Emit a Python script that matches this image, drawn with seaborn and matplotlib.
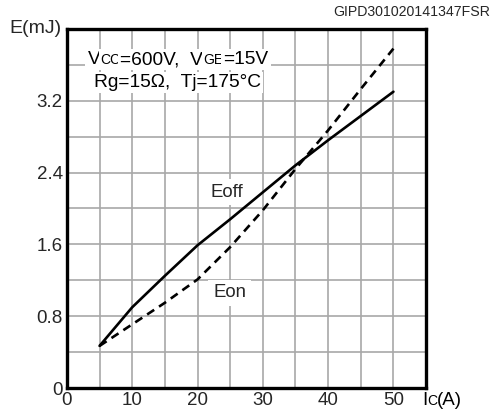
import matplotlib
matplotlib.use("Agg")
import matplotlib.pyplot as plt
import seaborn as sns
import pandas as pd
import numpy as np

# ---- data ----
ic = [5, 10, 15, 20, 25, 30, 35, 40, 45, 50]
eoff = [0.47, 0.90, 1.25, 1.59, 1.88, 2.18, 2.48, 2.76, 3.03, 3.30]
eon = [0.47, 0.71, 0.95, 1.21, 1.57, 1.98, 2.44, 2.87, 3.33, 3.78]
x_ticks = [0, 10, 20, 30, 40, 50]
y_ticks = [0, 0.8, 1.6, 2.4, 3.2]
y_labels = ["0", "0.8", "1.6", "2.4", "3.2"]

df = pd.DataFrame({
    "Ic": ic * 2,
    "E": eoff + eon,
    "curve": ["Eoff"] * len(ic) + ["Eon"] * len(ic),
})

sns.set_theme(style="white")
plt.rcParams["font.family"] = ["Liberation Sans", "DejaVu Sans"]

fig = plt.figure(figsize=(4.92, 4.12), dpi=100)
ax = fig.add_axes([0.136, 0.058, 0.730, 0.872])

sns.lineplot(data=df, x="Ic", y="E", hue="curve", style="curve",
             palette={"Eoff": "black", "Eon": "black"},
             dashes={"Eoff": "", "Eon": (3.2, 2.2)},
             linewidth=1.9, legend=False, ax=ax, zorder=4)

ax.set_xlim(0, 55)
ax.set_ylim(0, 4)
ax.set_xticks(x_ticks)
ax.set_xticklabels([str(t) for t in x_ticks])
ax.set_yticks(y_ticks)
ax.set_yticklabels(y_labels)
ax.set_xticks(np.arange(5, 55, 5), minor=True)
ax.set_yticks(np.arange(0.4, 4.0, 0.4), minor=True)
ax.grid(which="both", color="#a8a8a8", linewidth=1.2, zorder=0)
ax.set_axisbelow(True)
ax.tick_params(which="both", length=0)
ax.tick_params(axis="x", labelsize=13.5, pad=3)
ax.tick_params(axis="y", labelsize=13.5, pad=3)
ax.set_xlabel("")
ax.set_ylabel("")
for s in ax.spines.values():
    s.set_color("black")
    s.set_linewidth(2.4)
    s.set_zorder(5)

wb = dict(boxstyle="square,pad=0.12", fc="white", ec="none")

def chain(parts, x, y, coord, box=True):
    prev = None
    for txt, size in parts:
        kw = dict(fontsize=size, color="black", ha="left", va="baseline", zorder=6)
        if box:
            kw["bbox"] = wb
        if prev is None:
            prev = ax.annotate(txt, xy=(x, y), xycoords=coord, annotation_clip=False, **kw)
        else:
            prev = ax.annotate(txt, xy=(1, y), xycoords=(prev, coord), annotation_clip=False, **kw)
    return prev

chain([("V", 13.8), ("CC", 10), ("=600V,  V", 13.8), ("GE", 10), ("=15V", 13.8)],
      0.058, 0.902, "axes fraction")
chain([("Rg=15\u03a9,  Tj=175\u00b0C", 13.8)], 0.075, 0.838, "axes fraction")

ax.text(24.5, 2.18, "Eoff", fontsize=13.4, ha="center", va="center",
        bbox=dict(boxstyle="square,pad=0.25", fc="white", ec="none"), zorder=3)
ax.text(24.9, 1.06, "Eon", fontsize=13.4, ha="center", va="center",
        bbox=dict(boxstyle="square,pad=0.25", fc="white", ec="none"), zorder=3)

# axis labels
fig.text(0.020, 0.930, "E(mJ)", fontsize=14, ha="left", va="center")
chain([("I", 13.5), ("C", 10), ("(A)", 13.5)], 0.988, -0.047, "axes fraction", box=False)
fig.text(0.997, 0.970, "GIPD301020141347FSR", fontsize=10.2, ha="right", va="center")

fig.savefig("out.png", dpi=100)
